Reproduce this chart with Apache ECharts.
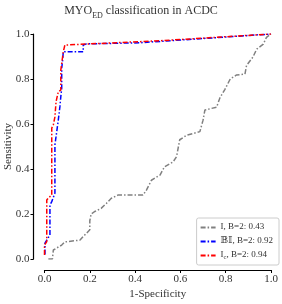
<!DOCTYPE html>
<html><head><meta charset="utf-8">
<script src="https://cdn.jsdelivr.net/npm/echarts@6/dist/echarts.min.js"></script>
<style>html,body{margin:0;padding:0;background:#fff}#c{width:282px;height:304px}</style>
</head><body><div id="c"></div>
<script>
var xTicks = [0, 0.2, 0.4, 0.6, 0.8, 1.0];
var yTicks = [0, 0.2, 0.4, 0.6, 0.8, 1.0];
var seriesNames = ['I, B=2: 0.43', 'BI, B=2: 0.92', 'Ic, B=2: 0.94'];
var grayROC = [[0.017,0.0],[0.035,0.0],[0.039,0.04],[0.054,0.049],[0.076,0.062],[0.09,0.076],[0.098,0.084],[0.157,0.084],[0.171,0.1],[0.186,0.115],[0.2,0.13],[0.2,0.17],[0.206,0.17],[0.206,0.2],[0.22,0.21],[0.25,0.225],[0.273,0.247],[0.295,0.27],[0.324,0.284],[0.435,0.284],[0.45,0.306],[0.472,0.35],[0.51,0.373],[0.53,0.41],[0.568,0.432],[0.583,0.455],[0.597,0.53],[0.627,0.55],[0.686,0.566],[0.70,0.617],[0.708,0.662],[0.76,0.675],[0.774,0.715],[0.796,0.753],[0.82,0.8],[0.848,0.818],[0.885,0.822],[0.892,0.86],[0.92,0.897],[0.937,0.933],[0.966,0.955],[0.98,0.985],[1,1]];
var blueROC = [[0.002,0.02],[0.002,0.071],[0.01,0.077],[0.024,0.107],[0.024,0.24],[0.032,0.255],[0.046,0.293],[0.046,0.507],[0.051,0.507],[0.061,0.618],[0.068,0.677],[0.072,0.721],[0.076,0.759],[0.076,0.848],[0.08,0.884],[0.083,0.921],[0.171,0.921],[0.171,0.951],[0.186,0.956],[0.42,0.961],[1,1]];
var redROC = [[0,0.018],[0,0.062],[0.01,0.077],[0.01,0.262],[0.017,0.271],[0.032,0.284],[0.032,0.582],[0.039,0.596],[0.046,0.632],[0.051,0.699],[0.061,0.744],[0.072,0.751],[0.072,0.84],[0.083,0.921],[0.09,0.951],[0.51,0.97],[1,1]];

var serif = '"Liberation Serif","DejaVu Serif",serif';
var dash = [5, 2, 1.5, 2];
var chart = echarts.init(document.getElementById('c'));
function mk(name, data, color) {
  return {name: name, type: 'line', data: data, symbol: 'none', animation: false,
    lineStyle: {color: color, width: 1.5, type: dash}, itemStyle: {color: color}};
}
chart.setOption({
  animation: false,
  backgroundColor: '#fff',
  title: {
    text: '{a|MYO}{s|ED}{a| classification in ACDC}',
    left: 'center', top: 0,
    textStyle: {fontWeight: 'normal', rich: {
      a: {fontFamily: serif, fontSize: 12, fontWeight: 'normal', color: '#333', verticalAlign: 'bottom', padding: [0,0,3,0]},
      s: {fontFamily: serif, fontSize: 8, fontWeight: 'normal', color: '#333', verticalAlign: 'bottom'}
    }}
  },
  grid: {left: 44.5, right: 11, top: 34, bottom: 45, containLabel: false, outerBoundsMode: 'none'},
  xAxis: {type: 'value', min: 0, max: 1, interval: 0.2, offset: 11,
    name: '1-Specificity', nameLocation: 'middle', nameGap: 19, nameMoveOverlap: false,
    nameTextStyle: {fontFamily: serif, fontSize: 11, color: '#333'},
    axisLine: {show: true, onZero: false, lineStyle: {color: '#000', width: 1.2}},
    axisTick: {show: true, length: 3, lineStyle: {color: '#000'}},
    axisLabel: {fontFamily: serif, fontSize: 11, color: '#333', margin: 4,
      formatter: function (v) { return v.toFixed(1); }},
    splitLine: {show: false}},
  yAxis: {type: 'value', min: 0, max: 1, interval: 0.2, offset: 11,
    name: 'Sensitivity', nameLocation: 'middle', nameGap: 20, nameMoveOverlap: false,
    nameTextStyle: {fontFamily: serif, fontSize: 11, color: '#333'},
    axisLine: {show: true, onZero: false, lineStyle: {color: '#000', width: 1.2}},
    axisTick: {show: true, length: 3, lineStyle: {color: '#000'}},
    axisLabel: {fontFamily: serif, fontSize: 11, color: '#333', margin: 4,
      formatter: function (v) { return v.toFixed(1); }},
    splitLine: {show: false}},
  legend: {
    orient: 'vertical', right: 3, bottom: 39,
    itemWidth: 15, itemHeight: 8, itemGap: 5,
    padding: [4, 6, 4, 3],
    borderColor: '#ccc', borderWidth: 1, borderRadius: 2, backgroundColor: '#fff',
    itemStyle: {opacity: 0},
    data: seriesNames,
    formatter: function (n) {
      if (n === seriesNames[1]) return '{a|𝔹𝕀, B=2: 0.92}';
      if (n === seriesNames[2]) return '{a|I}{s|c}{a|, B=2: 0.94}';
      return '{a|' + n + '}';
    },
    textStyle: {rich: {
      a: {fontFamily: serif, fontSize: 9, color: '#333', verticalAlign: 'bottom', padding: [0,0,2,0]},
      s: {fontFamily: serif, fontSize: 6.5, color: '#333', verticalAlign: 'bottom'}
    }}
  },
  series: [mk(seriesNames[0], grayROC, '#808080'), mk(seriesNames[1], blueROC, '#0000ff'), mk(seriesNames[2], redROC, '#ff0000')]
});
</script></body></html>
